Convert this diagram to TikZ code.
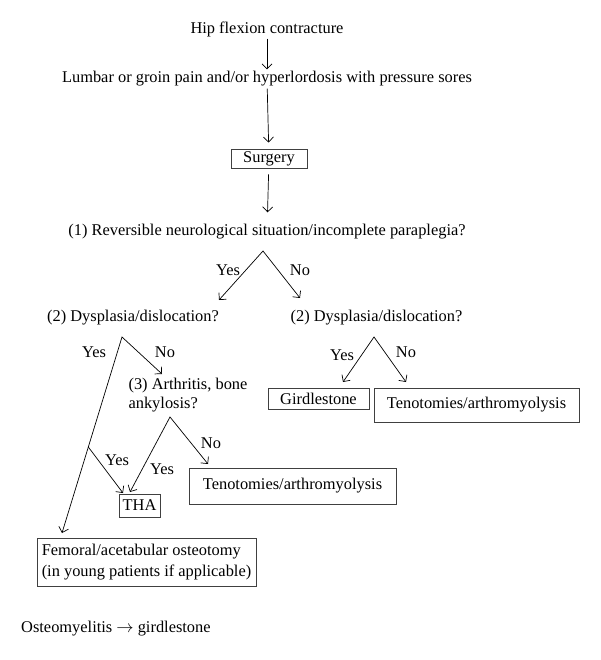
\documentclass[tikz,border=0pt]{standalone}
\usepackage{fontspec}
\setmainfont{Liberation Serif}
\usetikzlibrary{arrows.meta}

\begin{document}
\begin{tikzpicture}[x=1pt, y=-1pt,
    every node/.style={font=\fontsize{16.4}{21}\selectfont, inner sep=2pt},
    vbox/.style={draw=black!75, line width=0.9pt, inner sep=0pt},
    lbl/.style={inner sep=1pt},
    arr/.style={line width=0.7pt, -{Straight Barb[length=5pt,width=10pt]}},
    fork/.style={line width=0.7pt, {Straight Barb[length=5pt,width=10pt]}-{Straight Barb[length=5pt,width=10pt]}}]

    \useasboundingbox (0,0) rectangle (600,660);

    % --- Main column ---
    \node (hip) at (267,29) {Hip flexion contracture};
    \node (pain) at (267,79) {Lumbar or groin pain and/or hyperlordosis with pressure sores};
    \node[vbox, minimum width=76pt, minimum height=19pt] (surgery) at (269,158.5) {Surgery};
    \node (q1) at (267,232) {(1) Reversible neurological situation/incomplete paraplegia?};

    \draw[arr] (hip) -- (pain);
    \draw[arr, shorten >=6pt] (pain) -- (surgery);
    \draw[arr, shorten <=6pt, shorten >=10pt] (surgery) -- (q1);

    % --- First split ---
    \coordinate (f1) at (263,251);
    \coordinate (f1y) at (219,300);
    \coordinate (f1n) at (300,298);
    \draw[fork] (f1y) -- (f1) -- (f1n);
    \node[lbl] (y1) at (228,270) {Yes};
    \node[lbl] (n1) at (300,270) {No};

    \node (q2a) at (133,318) {(2) Dysplasia/dislocation?};
    \node (q2b) at (376.5,318) {(2) Dysplasia/dislocation?};

    % --- Right branch (no) ---
    \coordinate (f3) at (374,337);
    \coordinate (f3y) at (343,382);
    \coordinate (f3n) at (406,382);
    \draw[fork] (f3y) -- (f3) -- (f3n);
    \node[lbl] (y3) at (342,355) {Yes};
    \node[lbl] (n3) at (406,352) {No};

    \node[vbox, minimum width=101pt, minimum height=21pt] (gird) at (318.5,398.5) {Girdlestone};
    \node[vbox, minimum width=205pt, minimum height=34pt] (teno1) at (476.5,405) {Tenotomies/arthromyolysis};

    % --- Left branch (yes) ---
    \coordinate (f2) at (122,337);
    \coordinate (f2y) at (62,533);
    \coordinate (f2n) at (162,374);
    \coordinate (br) at (88.3,447);
    \draw[fork] (f2y) -- (f2) -- (f2n);
    \node[lbl] (y2) at (94,352) {Yes};
    \node[lbl] (n2) at (165,352) {No};

    \node[align=left, font=\fontsize{16.4}{19}\selectfont] (q3) at (188,395.5) {(3) Arthritis, bone\\ankylosis?};

    % arthritis split
    \coordinate (f4) at (170,417);
    \coordinate (f4y) at (130,492);
    \coordinate (f4n) at (208,464);
    \draw[fork] (f4y) -- (f4) -- (f4n);
    \node[lbl] (y4) at (162,469) {Yes};
    \node[lbl] (n4) at (211,443) {No};

    \coordinate (thay) at (123,493);
    \draw[arr] (br) -- (thay);
    \node[lbl] (y5) at (117,460) {Yes};

    \node[vbox, minimum width=41pt, minimum height=23pt] (tha) at (139.5,505.5) {THA};
    \node[vbox, minimum width=207pt, minimum height=36pt] (teno2) at (292.5,486) {Tenotomies/arthromyolysis};
    \node[vbox, align=left, minimum width=219pt, minimum height=48pt] (femoral) at (146.5,562)
        {Femoral/acetabular osteotomy\\(in young patients if applicable)};

    % --- Note ---
    \node[anchor=west] (osteo) at (19,629) {Osteomyelitis $\rightarrow$ girdlestone};

\end{tikzpicture}
\end{document}
